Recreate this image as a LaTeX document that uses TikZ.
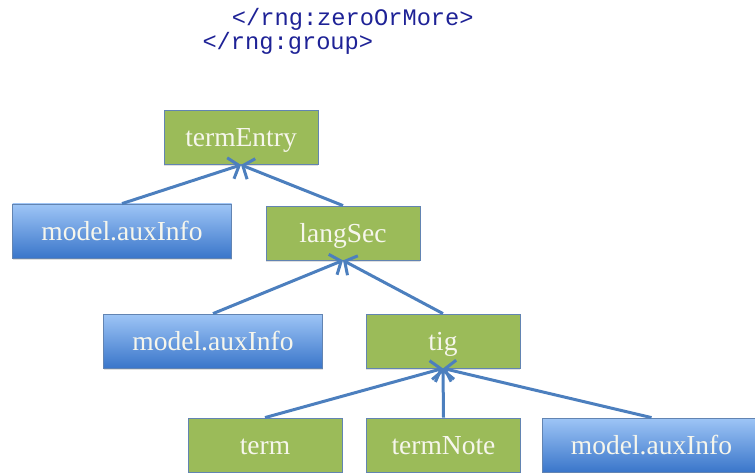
\documentclass[tikz,border=0pt]{standalone}
\usepackage{fontspec}
\setmainfont{Liberation Serif}
\newfontfamily\codefont{Liberation Mono}
\usepackage{tikz}
\usetikzlibrary{arrows.meta}
\usetikzlibrary{shadows}

\definecolor{codeblue}{RGB}{30,34,150}
\definecolor{linkblue}{RGB}{76,127,190}
\definecolor{boxgreen}{RGB}{155,187,89}
\definecolor{boxedge}{RGB}{98,132,178}
\definecolor{bluetop}{RGB}{158,197,246}
\definecolor{bluebot}{RGB}{58,118,202}
\definecolor{labelwhite}{RGB}{246,246,236}

\tikzset{
    elem/.style={draw=boxedge, line width=0.8pt, inner sep=0pt,
        minimum height=54pt, text=labelwhite,
        font=\fontsize{27.5}{30}\selectfont, text height=20pt, text depth=1.6pt,
        drop shadow={opacity=0.25, shadow xshift=0pt, shadow yshift=-2pt}},
    greenbox/.style={elem, fill=boxgreen, minimum width=154pt},
    bluebox/.style={elem, top color=bluetop, bottom color=bluebot, minimum width=219pt},
    link/.style={draw=linkblue, line width=3pt,
        -{Straight Barb[length=9pt,width=22pt]}},
    codeline/.style={anchor=base west, inner sep=0pt, text=codeblue,
        font=\codefont\fontsize{23.7}{23.3}\selectfont}
}

\begin{document}
\begin{tikzpicture}[x=1pt,y=-1pt]
    \useasboundingbox (0,0) rectangle (755,473);     % page size

    \node [codeline] (zero) at (231.7,26) {</rng:zeroOrMore>};  % closing tags
    \node [codeline] (group) at (202.3,49.3) {</rng:group>};

    \node [greenbox] (termEntry) at (241,137.5) {termEntry};   % top level
    \node [bluebox] (auxA) at (122,231) {model.auxInfo};
    \node [greenbox] (langSec) at (343,233) {langSec};          % second level
    \node [bluebox] (auxB) at (213,341) {model.auxInfo};
    \node [greenbox] (tig) at (443,341) {tig};                  % third level
    \node [greenbox] (term) at (265,445) {term};
    \node [greenbox] (termNote) at (443.5,445) {termNote};
    \node [bluebox] (auxC) at (651.5,445) {model.auxInfo};

    \draw [link] (auxA.north) -- (termEntry.south);       % up to termEntry
    \draw [link] (langSec.north) -- (termEntry.south);
    \draw [link] (auxB.north) -- (langSec.south);         % up to langSec
    \draw [link] (tig.north) -- (langSec.south);
    \draw [link] (term.north) -- (tig.south);             % up to tig
    \draw [link] (termNote.north) -- (tig.south);
    \draw [link] (auxC.north) -- (tig.south);
\end{tikzpicture}
\end{document}
